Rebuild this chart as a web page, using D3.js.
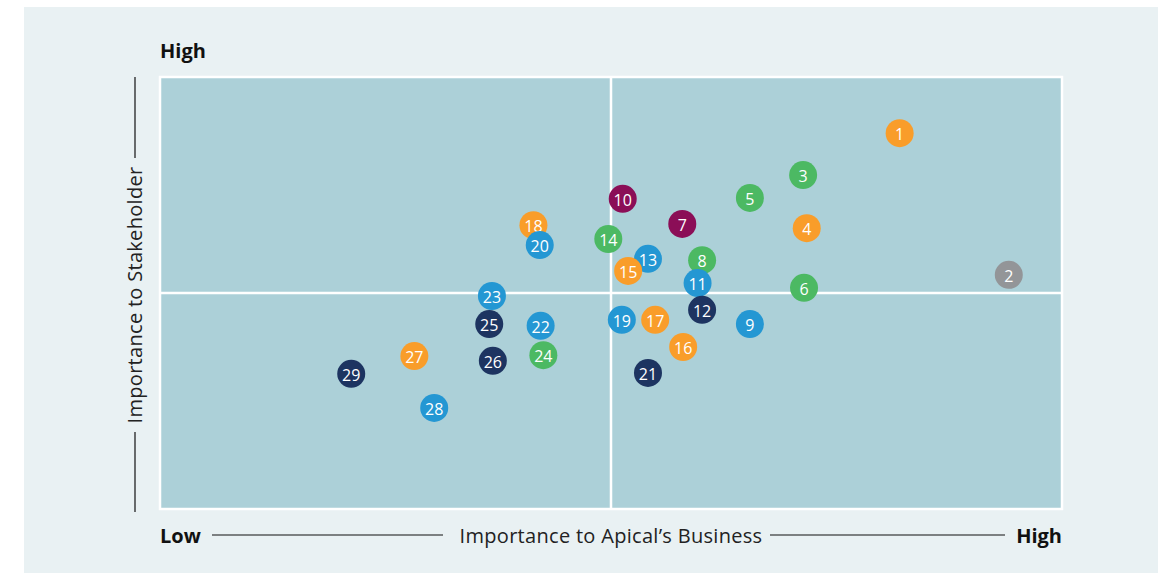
<!DOCTYPE html>
<meta charset="utf-8">
<style>
    body { margin: 0; background: #fff; }
    .axis-end { font: bold 20px "Open Sans", Lato, sans-serif; fill: #111; }
    .axis-title { font: 20px "Open Sans", Lato, sans-serif; fill: #222; letter-spacing: 0.3px; }
    .num { font: 16px "Open Sans", Lato, sans-serif; fill: #fff; text-anchor: middle; dominant-baseline: central; }
</style>
<svg width="1163" height="573"></svg>
<script src="https://d3js.org/d3.v7.min.js"></script>
<script>

    // material topics: id, importance to business (x), importance to stakeholder (y), group
    var ids = [1, 2, 3, 4, 5, 6, 7, 8, 9, 10, 11, 12, 13, 14, 15, 16, 17, 18, 19, 20, 21, 22, 23, 24, 25, 26, 27, 28, 29];
    var business = [8.20, 9.41, 7.13, 7.17, 6.54, 7.14, 5.79, 6.01, 6.54, 5.13, 5.96, 6.01, 5.41, 4.97, 5.19,
                    5.80, 5.49, 4.14, 5.12, 4.21, 5.41, 4.22, 3.68, 4.25, 3.65, 3.69, 2.82, 3.04, 2.12];
    var stakeholder = [8.70, 5.42, 7.73, 6.50, 7.20, 5.12, 6.60, 5.76, 4.28, 7.18, 5.23, 4.61, 5.79, 6.25, 5.51,
                       3.75, 4.38, 6.57, 4.38, 6.11, 3.15, 4.24, 4.93, 3.56, 4.28, 3.43, 3.54, 2.34, 3.13];
    var groups = ["economic", "other", "environment", "economic", "environment", "environment", "governance",
                  "environment", "social", "governance", "social", "people", "social", "environment", "economic",
                  "economic", "economic", "economic", "social", "social", "people", "social", "social",
                  "environment", "people", "people", "economic", "social", "people"];

    var groupNames = ["economic", "environment", "social", "people", "governance", "other"];
    var groupColors = ["#f99d2a", "#4cb963", "#2497d3", "#1d3461", "#8b0e57", "#939598"];

    var svg = d3.select("svg");

    var plotL = 160, plotR = 1062, plotT = 77, plotB = 509;

    var x = d3.scaleLinear().domain([0, 10]).range([plotL, plotR]);
    var y = d3.scaleLinear().domain([0, 10]).range([plotB, plotT]);
    var color = d3.scaleOrdinal().domain(groupNames).range(groupColors);

    // background panel
    svg.append("rect")
            .attr("x", 24).attr("y", 7)
            .attr("width", 1134).attr("height", 566)
            .attr("fill", "#e9f1f3");

    // plot area
    svg.append("rect")
            .attr("x", plotL).attr("y", plotT)
            .attr("width", plotR - plotL).attr("height", plotB - plotT)
            .attr("fill", "#acd0d8")
            .attr("stroke", "#fff")
            .attr("stroke-width", 2.5);

    // quadrant lines
    svg.append("line")
            .attr("x1", x(5)).attr("x2", x(5))
            .attr("y1", plotT).attr("y2", plotB)
            .attr("stroke", "#fff").attr("stroke-width", 2.5);
    svg.append("line")
            .attr("x1", plotL).attr("x2", plotR)
            .attr("y1", y(5)).attr("y2", y(5))
            .attr("stroke", "#fff").attr("stroke-width", 2.5);

    // x axis label
    var xl = 535;
    svg.append("text").attr("class", "axis-end").attr("x", plotL).attr("y", xl)
            .attr("dominant-baseline", "central").text("Low");
    svg.append("text").attr("class", "axis-end").attr("x", plotR).attr("y", xl)
            .attr("dominant-baseline", "central").attr("text-anchor", "end").text("High");
    svg.append("text").attr("class", "axis-title").attr("x", (plotL + plotR) / 2).attr("y", xl)
            .attr("dominant-baseline", "central").attr("text-anchor", "middle")
            .text("Importance to Apical\u2019s Business");
    svg.append("line").attr("x1", 212).attr("x2", 443).attr("y1", xl).attr("y2", xl)
            .attr("stroke", "#111").attr("stroke-width", 1.2);
    svg.append("line").attr("x1", 770).attr("x2", 1005).attr("y1", xl).attr("y2", xl)
            .attr("stroke", "#111").attr("stroke-width", 1.2);

    // y axis label
    var yl = 134;
    svg.append("text").attr("class", "axis-end").attr("x", plotL).attr("y", 50)
            .attr("dominant-baseline", "central").text("High");
    svg.append("text").attr("class", "axis-title")
            .attr("transform", "translate(" + yl + "," + ((plotT + plotB) / 2 + 2) + ") rotate(-90)")
            .attr("dominant-baseline", "central").attr("text-anchor", "middle")
            .text("Importance to Stakeholder");
    svg.append("line").attr("x1", yl + 1).attr("x2", yl + 1).attr("y1", plotT).attr("y2", 158)
            .attr("stroke", "#111").attr("stroke-width", 1.2);
    svg.append("line").attr("x1", yl + 1).attr("x2", yl + 1).attr("y1", 432).attr("y2", 512)
            .attr("stroke", "#111").attr("stroke-width", 1.2);

    // points
    var data = ids.map(function(id, i) {
        return {id: id, x: business[i], y: stakeholder[i], group: groups[i]};
    });

    var pt = svg.append("g").selectAll("g")
            .data(data)
            .enter().append("g")
            .attr("transform", function(d) { return "translate(" + x(d.x) + "," + y(d.y) + ")"; });

    pt.append("circle")
            .attr("r", 14)
            .attr("fill", function(d) { return color(d.group); });

    pt.append("text")
            .attr("class", "num")
            .attr("y", 1)
            .text(function(d) { return d.id; });

</script>
